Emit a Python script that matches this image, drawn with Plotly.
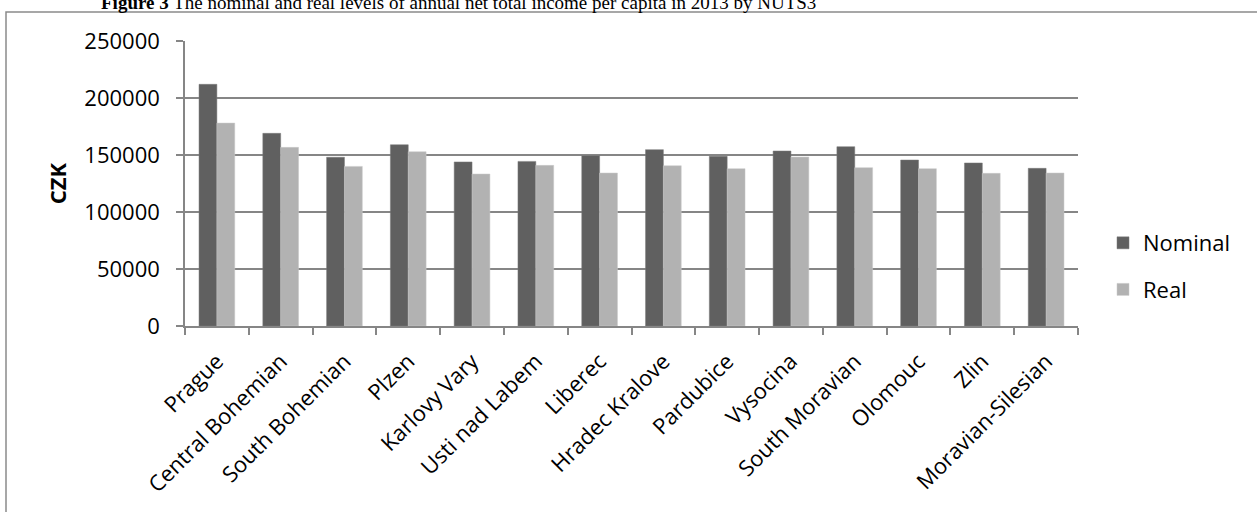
import plotly.graph_objects as go

regions = ["Prague", "Central Bohemian", "South Bohemian", "Plzen", "Karlovy Vary",
           "Usti nad Labem", "Liberec", "Hradec Kralove", "Pardubice", "Vysocina",
           "South Moravian", "Olomouc", "Zlin", "Moravian-Silesian"]
nominal = [212000, 169000, 148000, 159000, 143900, 144400, 149400, 154700, 148800,
           153500, 157300, 145600, 143000, 138300]
real = [178000, 156700, 140000, 152900, 133300, 140900, 134200, 140600, 138000,
        148200, 138900, 138000, 133900, 134200]
y_ticks = [0, 50000, 100000, 150000, 200000, 250000]

FONT = "Open Sans"
W, H = 1257, 512
L, R, T, B = 185, 179, 41, 186
pw, ph = W - L - R, H - T - B

def px_x(p):
    return (p - L) / pw

def px_y(p):
    return 1 + (T - p) / ph

fig = go.Figure()
fig.add_trace(go.Bar(x=regions, y=nominal, name="Nominal", marker_color="#606060",
                     marker_line=dict(color="#7a7a7a", width=0.5), legendgroup="a"))
fig.add_trace(go.Bar(x=regions, y=real, name="Real", marker_color="#b2b2b2",
                     marker_line=dict(color="#c8c8c8", width=0.5), legendgroup="b"))

fig.update_layout(
    width=W, height=H,
    margin=dict(l=L, r=R, t=T, b=B, autoexpand=False),
    plot_bgcolor="white", paper_bgcolor="white",
    barmode="group", bargap=0.44, bargroupgap=0,
    font=dict(family=FONT, size=22, color="#000000"),
    legend=dict(x=px_x(1103), y=px_y(222), xanchor="left", yanchor="top",
                traceorder="grouped", tracegroupgap=15,
                font=dict(family=FONT, size=22), bgcolor="rgba(0,0,0,0)"),
    xaxis=dict(type="category", tickangle=-45, showline=True, linecolor="#868686",
               linewidth=1.5, ticks="outside", tickson="boundaries", ticklen=7,
               tickcolor="#868686", tickwidth=1.5, showgrid=False,
               ticklabelstandoff=12,
               tickfont=dict(family=FONT, size=22)),
    yaxis=dict(range=[0, 250000], tickvals=y_ticks, ticktext=[str(v) for v in y_ticks],
               showline=True, linecolor="#868686", linewidth=1.5, ticks="outside",
               ticklen=7, tickcolor="#868686", tickwidth=1.5, showgrid=True,
               gridcolor="#868686", gridwidth=1.5, zeroline=False,
               ticklabelstandoff=12,
               tickfont=dict(family=FONT, size=22),
               title=dict(text="<b>CZK</b>", font=dict(family=FONT, size=22), standoff=12)),
    shapes=[dict(type="rect", xref="paper", yref="paper",
                 x0=px_x(6), x1=px_x(1300), y0=px_y(560), y1=px_y(12),
                 line=dict(color="#8a8a8a", width=1.5), fillcolor="rgba(0,0,0,0)",
                 layer="below")],
    annotations=[dict(text="<b>Figure 3</b> The nominal and real levels of annual net total income per capita in 2013 by NUTS3",
                      xref="paper", yref="paper", x=px_x(99), y=px_y(2.5), xanchor="left",
                      yanchor="middle", showarrow=False,
                      font=dict(family="Liberation Serif", size=19, color="#000000"))],
)

fig.write_html("out.html")
